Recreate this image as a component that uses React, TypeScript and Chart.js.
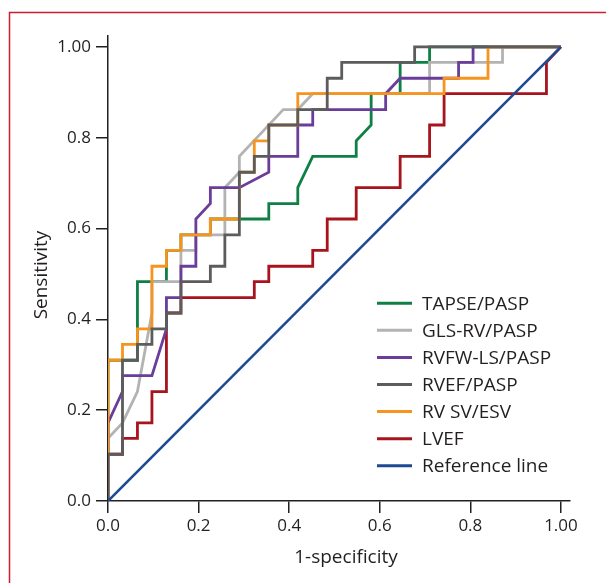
import React, { useEffect, useRef } from 'react';
import { Chart, registerables } from 'chart.js';

Chart.register(...registerables);

// ---------- data (1-specificity = FPR, sensitivity = TPR) ----------
const seriesLabels = ['TAPSE/PASP', 'GLS-RV/PASP', 'RVFW-LS/PASP', 'RVEF/PASP', 'RV SV/ESV', 'LVEF', 'Reference line'];

const tapseFpr = [0, 0, 0.065, 0.065, 0.129, 0.129, 0.161, 0.161, 0.226, 0.226, 0.355, 0.355, 0.419, 0.419, 0.452, 0.548, 0.548, 0.581, 0.581, 0.645, 0.645, 0.710, 0.710, 1];
const tapseTpr = [0, 0.310, 0.310, 0.483, 0.483, 0.552, 0.552, 0.586, 0.586, 0.621, 0.621, 0.655, 0.655, 0.690, 0.759, 0.759, 0.793, 0.828, 0.897, 0.897, 0.966, 0.966, 1, 1];

const glsFpr = [0, 0, 0.032, 0.065, 0.097, 0.097, 0.161, 0.161, 0.194, 0.194, 0.258, 0.258, 0.290, 0.290, 0.387, 0.419, 0.452, 0.710, 0.710, 0.871, 0.871, 1];
const glsTpr = [0, 0.138, 0.172, 0.241, 0.414, 0.483, 0.483, 0.552, 0.552, 0.586, 0.586, 0.690, 0.724, 0.759, 0.862, 0.862, 0.897, 0.897, 0.966, 0.966, 1, 1];

const rvfwFpr = [0, 0, 0.032, 0.032, 0.097, 0.129, 0.129, 0.161, 0.161, 0.194, 0.194, 0.226, 0.226, 0.290, 0.355, 0.355, 0.419, 0.419, 0.452, 0.452, 0.613, 0.613, 0.645, 0.774, 0.774, 0.806, 0.806, 1];
const rvfwTpr = [0, 0.172, 0.241, 0.276, 0.276, 0.379, 0.448, 0.448, 0.517, 0.517, 0.621, 0.655, 0.690, 0.690, 0.724, 0.759, 0.759, 0.828, 0.828, 0.862, 0.862, 0.897, 0.931, 0.931, 0.966, 0.966, 1, 1];

const rvefFpr = [0, 0, 0.032, 0.032, 0.065, 0.065, 0.097, 0.097, 0.129, 0.129, 0.161, 0.161, 0.226, 0.226, 0.258, 0.258, 0.290, 0.290, 0.323, 0.323, 0.355, 0.355, 0.419, 0.419, 0.484, 0.484, 0.516, 0.516, 0.677, 0.677, 1];
const rvefTpr = [0, 0.103, 0.103, 0.310, 0.310, 0.345, 0.345, 0.379, 0.379, 0.414, 0.414, 0.483, 0.483, 0.517, 0.517, 0.586, 0.586, 0.724, 0.724, 0.759, 0.759, 0.828, 0.828, 0.862, 0.862, 0.931, 0.931, 0.966, 0.966, 1, 1];

const rvsvFpr = [0, 0, 0.032, 0.032, 0.065, 0.065, 0.097, 0.097, 0.129, 0.129, 0.161, 0.161, 0.226, 0.226, 0.290, 0.290, 0.323, 0.323, 0.355, 0.355, 0.419, 0.419, 0.742, 0.742, 0.839, 0.839, 1];
const rvsvTpr = [0, 0.310, 0.310, 0.345, 0.345, 0.379, 0.379, 0.517, 0.517, 0.552, 0.552, 0.586, 0.586, 0.621, 0.621, 0.724, 0.724, 0.793, 0.793, 0.828, 0.828, 0.897, 0.897, 0.931, 0.931, 1, 1];

const lvefFpr = [0, 0, 0.032, 0.032, 0.065, 0.065, 0.097, 0.097, 0.129, 0.129, 0.161, 0.161, 0.323, 0.323, 0.355, 0.355, 0.452, 0.452, 0.484, 0.484, 0.548, 0.548, 0.645, 0.645, 0.710, 0.710, 0.742, 0.742, 0.968, 0.968, 1];
const lvefTpr = [0, 0.103, 0.103, 0.138, 0.138, 0.172, 0.172, 0.241, 0.241, 0.414, 0.414, 0.448, 0.448, 0.483, 0.483, 0.517, 0.517, 0.552, 0.552, 0.621, 0.621, 0.690, 0.690, 0.759, 0.759, 0.828, 0.828, 0.897, 0.897, 0.966, 1];

const refFpr = [0, 1];
const refTpr = [0, 1];

const tickValues = [0, 0.2, 0.4, 0.6, 0.8, 1.0];
const xTickLabels = ['0.0', '0.2', '0.4', '0.6', '0.8', '1.00'];
const yTickLabels = ['0.0', '0.2', '0.4', '0.6', '0.8', '1.00'];
const xTitle = '1-specificity';
const yTitle = 'Sensitivity';

// ---------- styles ----------
const colors = ['#0f8045', '#b3b3b3', '#6a3d9a', '#5c5c5c', '#f7941d', '#a8141e', '#1d4a93'];
const drawOrder = [5, 4, 3, 1, 2, 6, 0]; // lower = drawn on top
const TEXT = '#231f20';
const FONT = '"Open Sans", "Noto Sans", sans-serif';

const seriesX = [tapseFpr, glsFpr, rvfwFpr, rvefFpr, rvsvFpr, lvefFpr, refFpr];
const seriesY = [tapseTpr, glsTpr, rvfwTpr, rvefTpr, rvsvTpr, lvefTpr, refTpr];

const decorPlugin = {
  id: 'decor',
  afterDraw(chart: any) {
    const ctx: CanvasRenderingContext2D = chart.ctx;
    ctx.save();
    // frame (left and top edges)
    ctx.strokeStyle = '#c8202f';
    ctx.lineWidth = 1.5;
    ctx.beginPath();
    ctx.moveTo(9.5, 583);
    ctx.lineTo(9.5, 12.5);
    ctx.lineTo(606, 12.5);
    ctx.stroke();

    // axis titles
    ctx.fillStyle = TEXT;
    ctx.font = `19px ${FONT}`;
    ctx.textAlign = 'center';
    ctx.textBaseline = 'alphabetic';
    ctx.fillText(xTitle, 346, 563);
    ctx.save();
    ctx.translate(46.5, 275);
    ctx.rotate(-Math.PI / 2);
    ctx.fillText(yTitle, 0, 0);
    ctx.restore();

    // legend
    ctx.textAlign = 'left';
    ctx.textBaseline = 'middle';
    ctx.font = `19px ${FONT}`;
    seriesLabels.forEach((label, i) => {
      const y = 303.3 + i * 27.07;
      ctx.strokeStyle = colors[i];
      ctx.lineWidth = 3;
      ctx.beginPath();
      ctx.moveTo(377, y);
      ctx.lineTo(412, y);
      ctx.stroke();
      ctx.fillStyle = TEXT;
      ctx.fillText(label, 422, y + 1);
    });
    ctx.restore();
  },
};

export default function App() {
  const ref = useRef<HTMLCanvasElement>(null);

  useEffect(() => {
    let chart: Chart | null = null;
    let cancelled = false;

    const build = () => {
      if (cancelled || !ref.current) return;
      const datasets = seriesLabels.map((label, i) => ({
        label,
        data: seriesX[i].map((x, j) => ({ x, y: seriesY[i][j] })),
        showLine: true,
        borderColor: colors[i],
        backgroundColor: colors[i],
        borderWidth: i === 6 ? 2.6 : 2.8,
        pointRadius: 0,
        pointHoverRadius: 0,
        tension: 0,
        fill: false,
        order: drawOrder[i],
      }));

      chart = new Chart(ref.current, {
        type: 'scatter',
        data: { datasets },
        plugins: [decorPlugin],
        options: {
          animation: false,
          responsive: false,
          devicePixelRatio: 1,
          layout: { padding: { left: 0, right: 36, top: 36, bottom: 0 } },
          plugins: {
            legend: { display: false },
            tooltip: { enabled: false },
            title: { display: false },
          },
          scales: {
            x: {
              type: 'linear',
              min: 0,
              max: 1.02,
              z: 1,
              afterFit: (s: any) => { s.height = 82; },
              afterBuildTicks: (s: any) => { s.ticks = tickValues.map((v) => ({ value: v })); },
              grid: { drawOnChartArea: false, drawTicks: true, tickLength: 12, color: TEXT, lineWidth: 1.5 },
              border: { display: true, color: TEXT, width: 1.5 },
              ticks: {
                padding: 3,
                color: TEXT,
                font: { family: FONT, size: 17 },
                maxRotation: 0,
                autoSkip: false,
                callback: (_v: any, idx: number) => xTickLabels[idx],
              },
              title: { display: false },
            },
            y: {
              type: 'linear',
              min: 0,
              max: 1.024,
              z: 1,
              afterFit: (s: any) => { s.width = 108; },
              afterBuildTicks: (s: any) => { s.ticks = tickValues.map((v) => ({ value: v })); },
              grid: { drawOnChartArea: false, drawTicks: true, tickLength: 12, color: TEXT, lineWidth: 1.5 },
              border: { display: true, color: TEXT, width: 1.5 },
              ticks: {
                padding: 5,
                color: TEXT,
                font: { family: FONT, size: 17 },
                autoSkip: false,
                callback: (_v: any, idx: number) => yTickLabels[idx],
              },
              title: { display: false },
            },
          },
        } as any,
      });
    };

    const fonts: any = (document as any).fonts;
    if (fonts && fonts.load) {
      Promise.all([fonts.load(`17px "Open Sans"`), fonts.load(`19px "Open Sans"`)]).then(build, build);
    } else {
      build();
    }

    return () => {
      cancelled = true;
      if (chart) chart.destroy();
    };
  }, []);

  return (
    <canvas
      ref={ref}
      width={606}
      height={583}
      style={{ position: 'absolute', left: 0, top: 0, width: 606, height: 583, background: '#fff' }}
    />
  );
}
